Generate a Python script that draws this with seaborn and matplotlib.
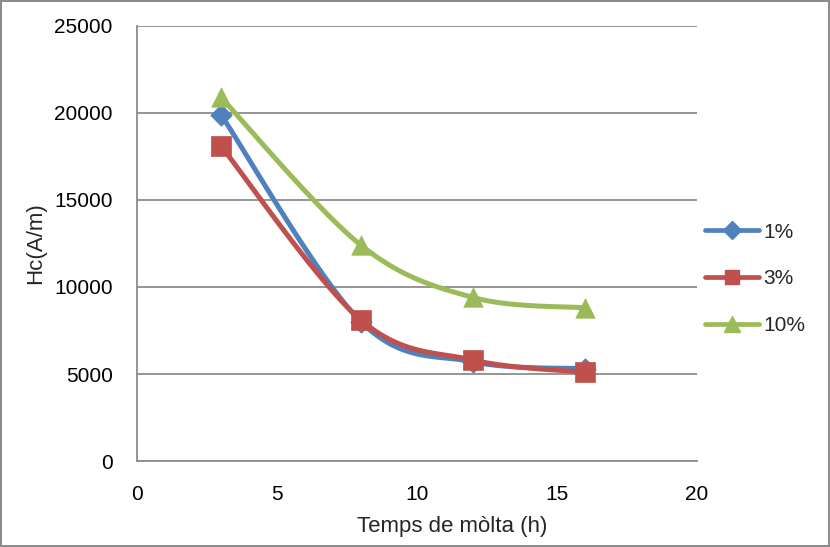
import numpy as np
import pandas as pd
import matplotlib
matplotlib.use("Agg")
import matplotlib.pyplot as plt
from matplotlib.lines import Line2D
import seaborn as sns

# ---- data ----
temps = [3, 8, 12, 16]
series_names = ["1%", "3%", "10%"]
hc_1 = [19900, 8000, 5700, 5300]
hc_3 = [18100, 8100, 5800, 5100]
hc_10 = [20900, 12400, 9400, 8800]
x_ticks = [0, 5, 10, 15, 20]
y_ticks = [0, 5000, 10000, 15000, 20000, 25000]

colors = ["#4F81BD", "#C0504D", "#9BBB59"]
markers = ["D", "s", "^"]
msizes = [11, 14, 14]
leg_msizes = [9, 10.5, 11]

sns.set_theme(style="white")
plt.rcParams['font.family'] = ['Liberation Sans', 'DejaVu Sans']


def smooth(xs, ys, n=40):
    xs = np.asarray(xs, float); ys = np.asarray(ys, float)
    px = np.concatenate([[xs[0]], xs, [xs[-1]]])
    py = np.concatenate([[ys[0]], ys, [ys[-1]]])
    outx, outy = [], []
    t = np.linspace(0, 1, n)
    for i in range(1, len(px) - 2):
        p0 = np.array([px[i], py[i]]); p3 = np.array([px[i + 1], py[i + 1]])
        p1 = p0 + (np.array([px[i + 1], py[i + 1]]) - np.array([px[i - 1], py[i - 1]])) / 6
        p2 = p3 - (np.array([px[i + 2], py[i + 2]]) - np.array([px[i], py[i]])) / 6
        b = ((1 - t) ** 3)[:, None] * p0 + (3 * (1 - t) ** 2 * t)[:, None] * p1 \
            + (3 * (1 - t) * t ** 2)[:, None] * p2 + (t ** 3)[:, None] * p3
        outx.extend(b[:, 0]); outy.extend(b[:, 1])
    return outx, outy


fig = plt.figure(figsize=(8.3, 5.47), dpi=100)
fig.patch.set_edgecolor("#8c8c8c")
fig.patch.set_linewidth(1.5)
ax = fig.add_axes([0.165, 0.1572, 0.6748, 0.7953])

df = pd.DataFrame({
    "temps": temps * 3,
    "hc": hc_1 + hc_3 + hc_10,
    "serie": [s for s in series_names for _ in temps],
})

handles = []
for i, (name, vals) in enumerate(zip(series_names, [hc_1, hc_3, hc_10])):
    sx, sy = smooth(temps, vals)
    ax.plot(sx, sy, color=colors[i], lw=3.6, solid_capstyle="round", zorder=3 + i)
    sub = df[df["serie"] == name]
    sns.scatterplot(data=sub, x="temps", y="hc", marker=markers[i], s=msizes[i] ** 2,
                    color=colors[i], edgecolor=colors[i], linewidth=0.5, ax=ax,
                    zorder=3.5 + i, legend=False)
    handles.append(Line2D([0], [0], color=colors[i], lw=3.4, marker=markers[i],
                          markersize=leg_msizes[i], solid_capstyle="round"))

ax.set_xlim(0, 20)
ax.set_ylim(0, 25000)
ax.set_xticks(x_ticks)
ax.set_yticks(y_ticks)
ax.yaxis.grid(True, color="#8c8c8c", lw=1.3)
ax.set_axisbelow(True)
for s in ["top", "right"]:
    ax.spines[s].set_visible(False)
for s in ["left", "bottom"]:
    ax.spines[s].set_color("#8c8c8c")
    ax.spines[s].set_linewidth(1.3)
ax.tick_params(axis="both", direction="out", length=5, width=1.3, color="#8c8c8c",
               labelsize=15, labelcolor="black", pad=12.5)
ax.set_xlabel("Temps de mòlta (h)", fontsize=16, labelpad=8.5)
ax.xaxis.label.set_x(0.5625)
ax.set_ylabel("Hc(A/m)", fontsize=16, labelpad=5.5)

fig.legend(handles, series_names, loc="center left",
           bbox_to_anchor=(705 / 830, 1 - 279 / 547), bbox_transform=fig.transFigure,
           frameon=False, fontsize=15, handlelength=2.6, labelspacing=1.33,
           borderaxespad=0, borderpad=0, handletextpad=0.2)

fig.savefig("out.png", dpi=100)
